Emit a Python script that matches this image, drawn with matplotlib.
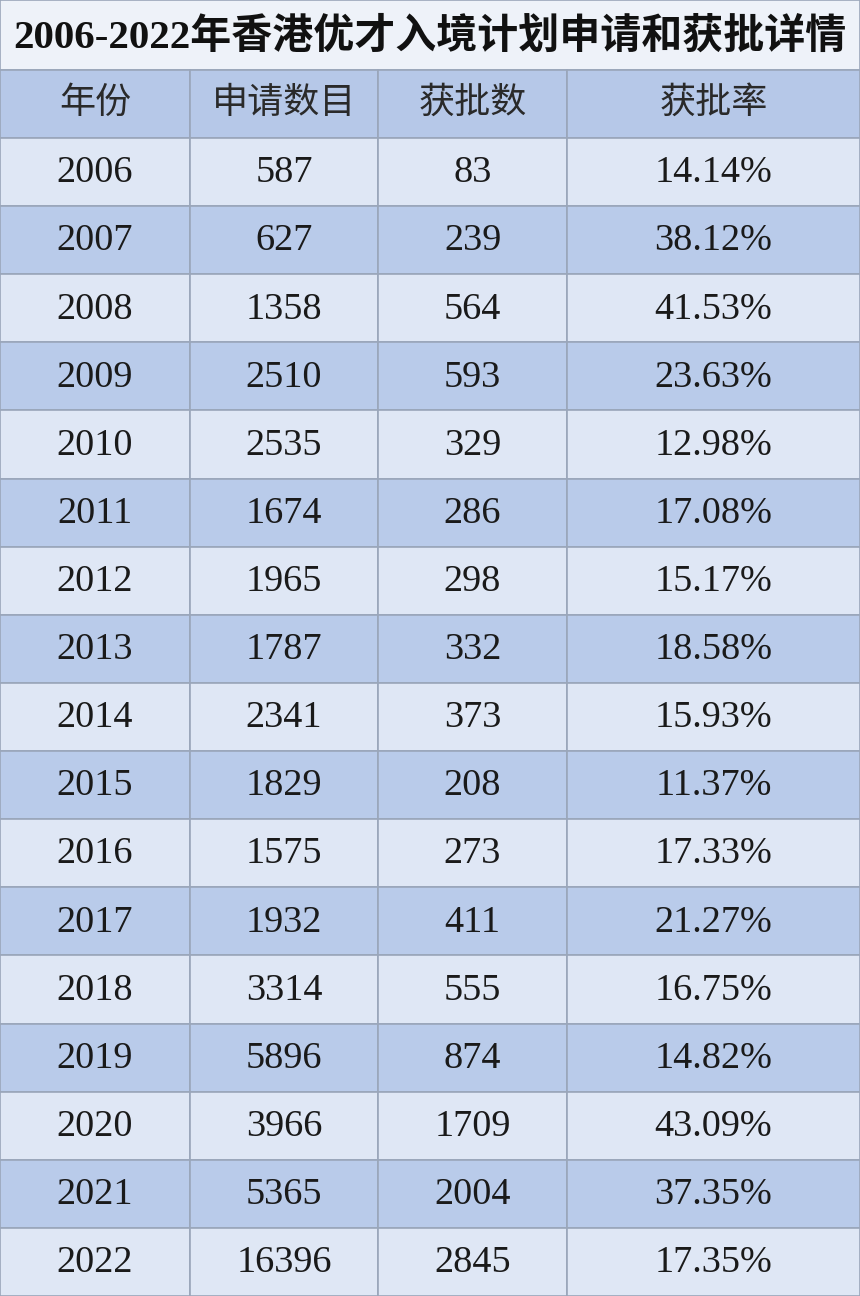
import matplotlib
matplotlib.use("Agg")
import matplotlib.pyplot as plt
from matplotlib.patches import Rectangle

title = "2006-2022年香港优才入境计划申请和获批详情"
headers = ["年份", "申请数目", "获批数", "获批率"]
years = list(range(2006, 2023))
applications = [587, 627, 1358, 2510, 2535, 1674, 1965, 1787, 2341, 1829,
                1575, 1932, 3314, 5896, 3966, 5365, 16396]
approved = [83, 239, 564, 593, 329, 286, 298, 332, 373, 208,
            273, 411, 555, 874, 1709, 2004, 2845]
rates = ["14.14%", "38.12%", "41.53%", "23.63%", "12.98%", "17.08%", "15.17%",
         "18.58%", "15.93%", "11.37%", "17.33%", "21.27%", "16.75%", "14.82%",
         "43.09%", "37.35%", "17.35%"]

W, H = 860, 1296
col_x = [0, 190, 378, 567, 860]
title_h, head_h = 70, 68
row_h = (H - title_h - head_h) / len(years)
fonts = ["Liberation Serif", "Noto Sans CJK SC"]
line_c = "#9aa6ba"

fig = plt.figure(figsize=(W / 100, H / 100), dpi=100)
ax = fig.add_axes([0, 0, 1, 1])
ax.set_xlim(0, W)
ax.set_ylim(H, 0)
ax.axis("off")

# title row
ax.add_patch(Rectangle((0, 0), W, title_h, facecolor="#eef2f9", edgecolor=line_c, lw=1.2))
ax.text(W / 2, title_h / 2 + 2, title, ha="center", va="center", fontsize=29.5,
        fontweight="bold", family=fonts, color="#111111")

# header row
for j, h in enumerate(headers):
    ax.add_patch(Rectangle((col_x[j], title_h), col_x[j + 1] - col_x[j], head_h,
                           facecolor="#b6c8e8", edgecolor=line_c, lw=1.2))
    ax.text((col_x[j] + col_x[j + 1]) / 2, title_h + head_h / 2, h, ha="center",
            va="center", fontsize=26, family=fonts, color="#2a2a2a")

# body rows
for i, yr in enumerate(years):
    y0 = title_h + head_h + i * row_h
    fc = "#dfe7f5" if i % 2 == 0 else "#b9cbea"
    vals = [str(yr), str(applications[i]), str(approved[i]), rates[i]]
    for j, v in enumerate(vals):
        ax.add_patch(Rectangle((col_x[j], y0), col_x[j + 1] - col_x[j], row_h,
                               facecolor=fc, edgecolor=line_c, lw=1.2))
        ax.text((col_x[j] + col_x[j + 1]) / 2, y0 + row_h / 2 + 1, v, ha="center",
                va="center", fontsize=27.5, family=fonts, color="#1a1a1a")

fig.savefig("out.png", dpi=100)
